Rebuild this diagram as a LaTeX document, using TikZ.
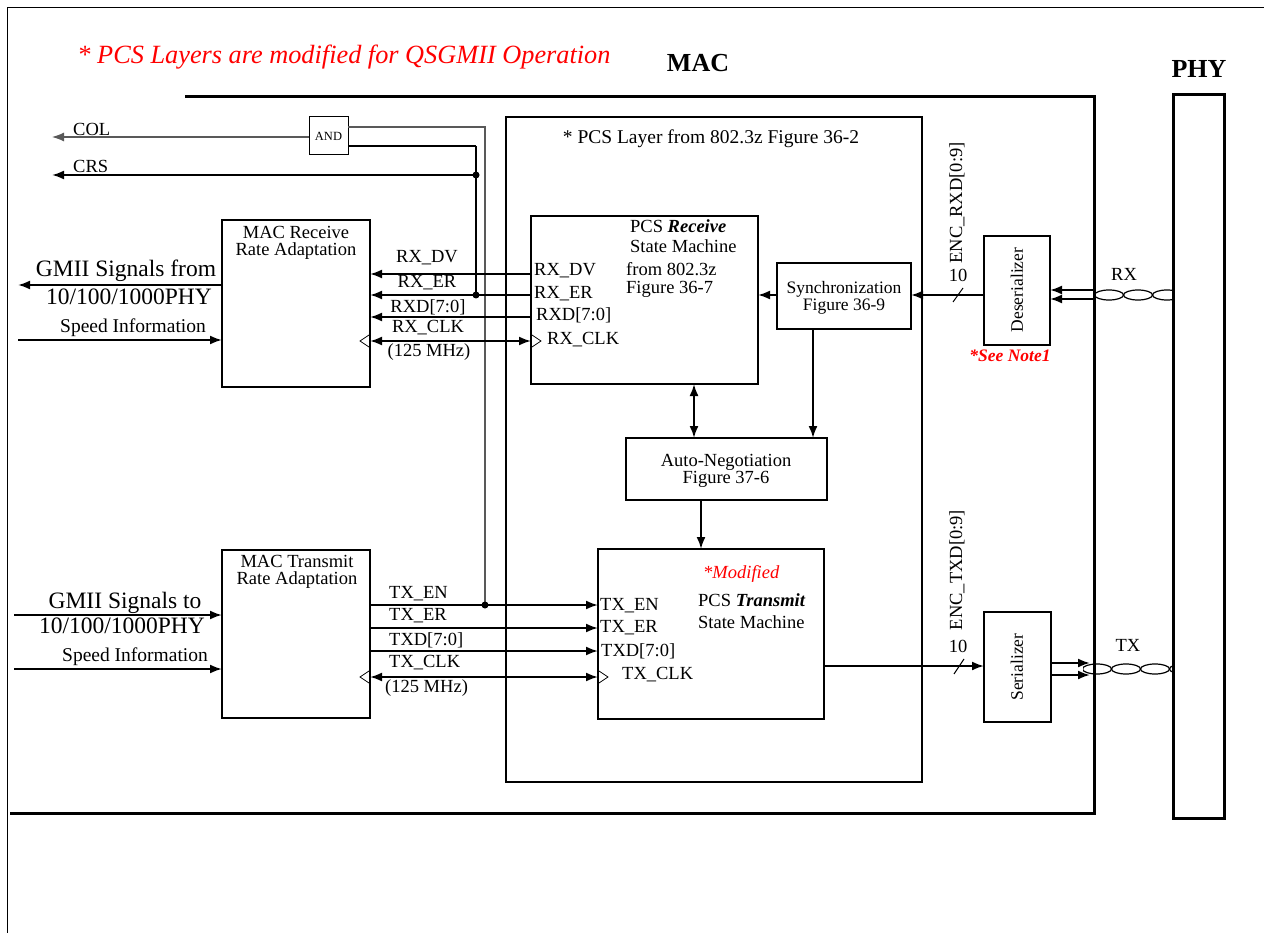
\documentclass[tikz,border=0pt]{standalone}
\usepackage{fontspec}
\setmainfont{Liberation Serif}
\usetikzlibrary{arrows.meta}
\begin{document}
\begin{tikzpicture}[x=1pt,y=-1pt,
  box/.style={draw, line width=2pt, inner sep=0pt, outer sep=0pt, anchor=north west},
  sig/.style={line width=2pt, -{Latex[length=12pt,width=9pt]}},
  dsig/.style={line width=2pt, {Latex[length=12pt,width=9pt]}-{Latex[length=12pt,width=9pt]}},
  gline/.style={line width=1.2pt, draw=black!65},
  t/.style={inner sep=0pt, font=\fontsize{18.5}{20}\selectfont},
  tl/.style={t, anchor=west},
  two/.style={inner sep=0pt, align=center, font=\fontsize{18.5}{17}\selectfont},
  big/.style={inner sep=0pt, font=\fontsize{23.5}{25}\selectfont},
  head/.style={inner sep=0pt, font=\fontsize{26}{28}\selectfont\bfseries},
  clk/.style={line width=0.8pt},
  dot/.style={fill=black},
  twist/.style={line width=1.2pt}
]
\useasboundingbox (0,0) rectangle (1264,933);

% outer frame
\draw[line width=1pt] (7,933) -- (7,8) -- (1264,8);

% title and headings
\node[inner sep=0pt, font=\fontsize{26.3}{28}\selectfont\itshape, text=red] (title) at (344,57) {* PCS Layers are modified for QSGMII Operation};
\node[head] (machead) at (698,63) {MAC};
\node[head] (phyhead) at (1199,69) {PHY};

% MAC border
\draw[line width=3pt] (185,97) -- (1094,97) -- (1094,813) -- (10,813);

% PHY box
\node[box, line width=3pt, minimum width=51pt, minimum height=723pt] (phy) at (1173,95) {};

% PCS layer box
\node[box, minimum width=416pt, minimum height=665pt] (pcs) at (506,117) {};
\node[t, font=\fontsize{19.5}{21}\selectfont] (pcstitle) at (711,139) {* PCS Layer from 802.3z Figure 36-2};

% AND gate
\node[box, line width=1pt, minimum width=39pt, minimum height=38pt] (andg) at (309,117) {};
\node[inner sep=0pt, font=\fontsize{12.5}{13}\selectfont] (andtxt) at (328.5,136) {AND};

% MAC receive / transmit boxes
\node[box, minimum width=148pt, minimum height=167pt] (macrx) at (222,220) {};
\node[two, anchor=north] (macrxt) at (296,226) {MAC Receive\\Rate Adaptation};
\node[box, minimum width=148pt, minimum height=168pt] (mactx) at (222,550) {};
\node[two, anchor=north] (mactxt) at (297,555) {MAC Transmit\\Rate Adaptation};

% PCS receive
\node[box, minimum width=227pt, minimum height=168pt] (pcsrx) at (531,216) {};
\node[tl] (pr1) at (630,226) {PCS \textbf{\textit{Receive}}};
\node[tl] (pr2) at (630,246) {State Machine};
\node[tl] (pr3) at (626,269) {from 802.3z};
\node[tl] (pr4) at (626,289) {Figure 36-7};
\node[tl] (prdv) at (534,271) {RX\_DV};
\node[tl] (prer) at (534,294) {RX\_ER};
\node[tl] (prd) at (536,315) {RXD[7:0]};
\node[tl] (prclk) at (547,340) {RX\_CLK};

% synchronization
\node[box, minimum width=134pt, minimum height=66pt] (sync) at (777,263) {};
\node[two, font=\fontsize{17.5}{17}\selectfont] (synct) at (844,298) {Synchronization\\Figure 36-9};

% auto-negotiation
\node[box, minimum width=201pt, minimum height=62pt] (an) at (626,438) {};
\node[two] (ant) at (726,471) {Auto-Negotiation\\Figure 37-6};

% PCS transmit
\node[box, minimum width=226pt, minimum height=170pt] (pcstx) at (598,549) {};
\node[tl, text=red, font=\fontsize{18.5}{20}\selectfont\itshape] (mod) at (703,574) {*Modified};
\node[tl] (pt1) at (698,600) {PCS \textbf{\textit{Transmit}}};
\node[tl] (pt2) at (698,622) {State Machine};
\node[tl] (pten) at (600,606) {TX\_EN};
\node[tl] (pter) at (600,628) {TX\_ER};
\node[tl] (ptd) at (601,651) {TXD[7:0]};
\node[tl] (ptclk) at (622,675) {TX\_CLK};

% deserializer / serializer
\node[box, minimum width=66pt, minimum height=109pt] (deser) at (984,236) {};
\node[t, rotate=90, font=\fontsize{17.5}{19}\selectfont] (desertxt) at (1017,290) {Deserializer};
\node[t, text=red, font=\fontsize{17.5}{19}\selectfont\bfseries\itshape] (note) at (1010,356) {*See Note1};
\node[box, minimum width=67pt, minimum height=110pt] (ser) at (984,612) {};
\node[t, rotate=90, font=\fontsize{17.5}{19}\selectfont] (sertxt) at (1017,667) {Serializer};

% free ends
\coordinate (colend) at (52,137);
\coordinate (crsend) at (52,175);
\coordinate (gmrxend) at (18,285);
\coordinate (sprx) at (18,340);
\coordinate (gmtx) at (14,615);
\coordinate (sptx) at (14,669);
\coordinate (ja) at (485,127);
\coordinate (jb) at (476,146);
\coordinate (jcrs) at (476,175);
\coordinate (jer) at (476,295);
\coordinate (jen) at (485,605);

% COL / CRS
\draw[gline, -{Latex[length=12pt,width=9pt]}] (andg.west |- colend) -- (colend);
\node[tl] (coltxt) at (73,129) {COL};
\draw[sig] (jcrs) -- (crsend);
\node[tl] (crstxt) at (73,166) {CRS};
\draw[gline] (andg.east |- ja) -- (ja) -- (jen);
\draw[line width=1.2pt] (andg.east |- jb) -- (jb);
\draw[line width=2pt] (jb) -- (jer);
\fill[dot] (jcrs) circle (3.5pt);
\fill[dot] (jer) circle (3.5pt);
\fill[dot] (jen) circle (3.5pt);

% GMII / speed
\draw[sig] (macrx.west |- gmrxend) -- (gmrxend);
\node[big] (g1) at (126,271) {GMII Signals from};
\node[big] (g2) at (129,297) {10/100/1000PHY};
\draw[sig] (sprx) -- (macrx.west |- sprx);
\node[t, font=\fontsize{19.5}{21}\selectfont] (s1) at (133,328) {Speed Information};
\draw[sig] (gmtx) -- (mactx.west |- gmtx);
\node[big] (g3) at (125,603) {GMII Signals to};
\node[big] (g4) at (122,626) {10/100/1000PHY};
\draw[sig] (sptx) -- (mactx.west |- sptx);
\node[t, font=\fontsize{19.5}{21}\selectfont] (s2) at (135,657) {Speed Information};

% RX signals
\draw[sig] (pcsrx.west |- 0,274) -- (macrx.east |- 0,274);
\draw[sig] (pcsrx.west |- 0,295) -- (macrx.east |- 0,295);
\draw[sig] (pcsrx.west |- 0,317) -- (macrx.east |- 0,317);
\draw[dsig] (macrx.east |- 0,341) -- (pcsrx.west |- 0,341);
\node[t] (rdv) at (427,258) {RX\_DV};
\node[t] (rer) at (427,283) {RX\_ER};
\node[t] (rd) at (428,307) {RXD[7:0]};
\node[t] (rclk) at (428,328) {RX\_CLK};
\node[t] (rmhz) at (429,352) {(125 MHz)};
\draw[clk] (369,335) -- (360,341) -- (369,347);
\draw[clk] (532,335) -- (541,341) -- (532,347);

% TX signals
\draw[sig] (mactx.east |- 0,605) -- (pcstx.west |- 0,605);
\draw[sig] (mactx.east |- 0,628) -- (pcstx.west |- 0,628);
\draw[sig] (mactx.east |- 0,651) -- (pcstx.west |- 0,651);
\draw[dsig] (mactx.east |- 0,677) -- (pcstx.west |- 0,677);
\node[tl] (ten) at (389,594) {TX\_EN};
\node[tl] (ter) at (389,616) {TX\_ER};
\node[tl] (td) at (389,640) {TXD[7:0]};
\node[tl] (tclk) at (389,663) {TX\_CLK};
\node[tl] (tmhz) at (385,688) {(125 MHz)};
\draw[clk] (369,671) -- (360,677) -- (369,683);
\draw[clk] (599,671) -- (608,677) -- (599,683);

% internal PCS connections
\draw[sig] (sync.west |- 0,295) -- (pcsrx.east |- 0,295);
\draw[dsig] (pcsrx.south -| 694,0) -- (an.north -| 694,0);
\draw[sig] (sync.south -| 813,0) -- (an.north -| 813,0);
\draw[sig] (an.south -| 701,0) -- (pcstx.north -| 701,0);

% RX path from deserializer
\draw[sig] (deser.west |- 0,295) -- (sync.east |- 0,295);
\draw[line width=1pt] (953,302) -- (963,288);
\node[t] (ten1) at (958,275) {10};
\node[t, rotate=90] (encrx) at (957,203) {ENC\_RXD[0:9]};
\coordinate (rxa) at (1094,290);
\coordinate (rxb) at (1094,299);
\draw[sig] (rxa) -- (deser.east |- rxa);
\draw[sig] (rxb) -- (deser.east |- rxb);
\begin{scope}
  \clip (1094,285) rectangle (1173,305);
  \foreach \cx in {1109,1138,1167} \draw[twist] (\cx,295) ellipse (14.5pt and 5pt);
\end{scope}
\node[t] (rxtxt) at (1124,274) {RX};

% TX path to serializer
\draw[sig] (pcstx.east |- 0,666) -- (ser.west |- 0,666);
\draw[line width=1pt] (954,674) -- (964,659);
\node[t] (ten2) at (958,646) {10};
\node[t, rotate=90] (enctx) at (957,570) {ENC\_TXD[0:9]};
\coordinate (txa) at (1090,663);
\coordinate (txb) at (1090,675);
\draw[sig] (ser.east |- txa) -- (txa);
\draw[sig] (ser.east |- txb) -- (txb);
\begin{scope}
  \clip (1083,659) rectangle (1173,679);
  \foreach \cx in {1097,1126,1155,1184} \draw[twist] (\cx,669) ellipse (14.5pt and 5pt);
\end{scope}
\node[t] (txtxt) at (1128,645) {TX};

\end{tikzpicture}
\end{document}
